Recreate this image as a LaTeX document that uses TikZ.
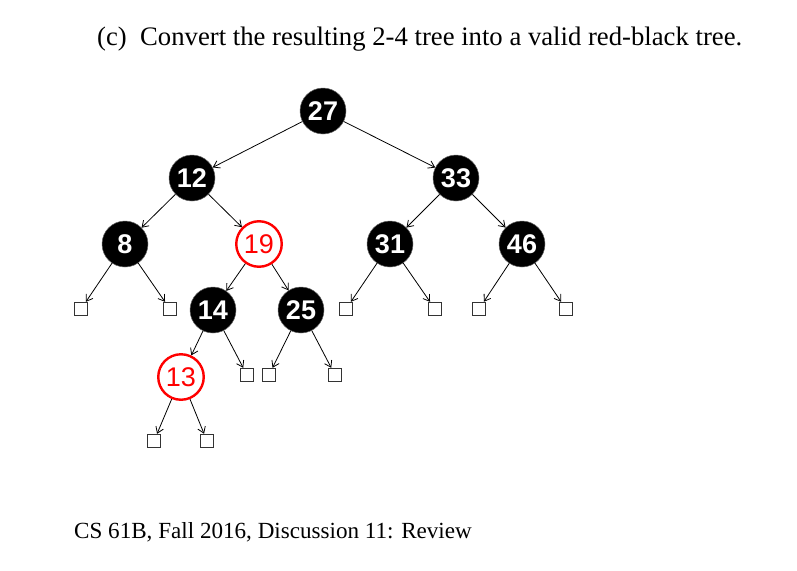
\documentclass[tikz,border=0pt]{standalone}
\usepackage{fontspec}
\setmainfont{Liberation Serif}
\newfontfamily\keyfont{Liberation Sans}
\usetikzlibrary{arrows.meta}
\tikzset{
  blk/.style={circle, fill=black, draw=black!60, line width=0.5pt, minimum size=46pt, inner sep=0pt,
    text=white, font=\keyfont\bfseries\fontsize{27}{27}\selectfont},
  rd/.style={circle, fill=white, draw=red, line width=2.4pt, minimum size=45.5pt, inner sep=0pt,
    text=red, font=\keyfont\fontsize{27}{27}\selectfont},
  leaf/.style={rectangle, draw=black!80, line width=0.9pt, minimum size=13.5pt, inner sep=0pt},
  link/.style={-{Straight Barb[length=6pt,width=8pt]}, line width=0.8pt},
  caption/.style={anchor=base west, inner sep=0pt},
}
\begin{document}
\begin{tikzpicture}[x=1pt,y=-1pt]
		\useasboundingbox (0,0) rectangle (797,570) ;
\par
\node[caption, font=\fontsize{26.7}{30}\selectfont] (title) at (97,45.5)
			{(c)\hspace{0.5em}Convert the resulting 2-4 tree into a valid red-black tree.} ;
		\node[caption, font=\fontsize{23.1}{28}\selectfont] (foot) at (74,538)
			{CS 61B, Fall 2016, Discussion 11: Review} ;
\par
\node[blk] (n27) at (323,111) {27} ;
		\node[blk] (n12) at (192,178) {12} ;
		\node[blk] (n33) at (456,178) {33} ;
		\node[blk] (n8) at (125,244) {8} ;
		\node[rd] (n19) at (259,244) {19} ;
		\node[blk] (n31) at (390,244) {31} ;
		\node[blk] (n46) at (522,244) {46} ;
		\node[blk] (n14) at (213,310) {14} ;
		\node[blk] (n25) at (301,310) {25} ;
		\node[rd] (n13) at (181,377) {13} ;
\par
\node[leaf] (l8a) at (81,309) {} ;
		\node[leaf] (l8b) at (170,309) {} ;
		\node[leaf] (l31a) at (346,309) {} ;
		\node[leaf] (l31b) at (435,309) {} ;
		\node[leaf] (l46a) at (479,309) {} ;
		\node[leaf] (l46b) at (566,309) {} ;
		\node[leaf] (l14b) at (247,375) {} ;
		\node[leaf] (l25a) at (269,375) {} ;
		\node[leaf] (l25b) at (335,375) {} ;
		\node[leaf] (l13a) at (154,441) {} ;
		\node[leaf] (l13b) at (207,441) {} ;
\par
\draw[link] (n27) -- (n12) ;
		\draw[link] (n27) -- (n33) ;
		\draw[link] (n12) -- (n8) ;
		\draw[link] (n12) -- (n19) ;
		\draw[link] (n33) -- (n31) ;
		\draw[link] (n33) -- (n46) ;
		\draw[link] (n19) -- (n14) ;
		\draw[link] (n19) -- (n25) ;
		\draw[link] (n14) -- (n13) ;
\par
\draw[link] (n8) -- (l8a) ;
		\draw[link] (n8) -- (l8b) ;
		\draw[link] (n31) -- (l31a) ;
		\draw[link] (n31) -- (l31b) ;
		\draw[link] (n46) -- (l46a) ;
		\draw[link] (n46) -- (l46b) ;
		\draw[link] (n14) -- (l14b) ;
		\draw[link] (n25) -- (l25a) ;
		\draw[link] (n25) -- (l25b) ;
		\draw[link] (n13) -- (l13a) ;
		\draw[link] (n13) -- (l13b) ;
	\end{tikzpicture}
\end{document}
